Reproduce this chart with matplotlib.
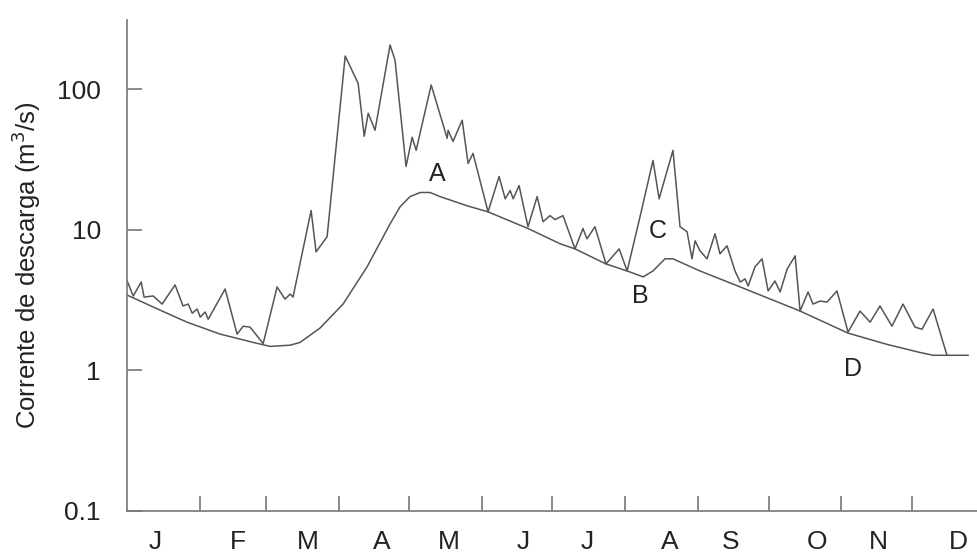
import matplotlib.pyplot as plt

plt.rcParams['font.family'] = ['Liberation Sans', 'DejaVu Sans']

# hidrograma (dia do ano, m3/s)
dias_q = [0, 2.6, 6.0, 7.2, 11.1, 14.9, 20.4, 23.8, 26.0, 27.7, 29.8, 31.1, 33.2, 34.5,
          41.7, 46.8, 49.4, 52.3, 57.9, 63.8, 67.2, 69.4, 70.6, 78.3, 80.4, 85.1,
          92.8, 98.3, 100.9, 102.6, 105.5, 111.9, 114.0, 118.7, 121.3, 123.0, 129.4,
          136.2, 136.6, 138.7, 142.6, 145.1, 147.2, 153.6, 158.3, 160.9, 163.0, 164.3,
          166.8, 170.6, 174.5, 177.0, 180.0, 182.1, 185.5, 190.6, 194.0, 195.7, 199.1,
          203.8, 209.4, 212.8, 218.3, 223.8, 226.4, 232.3, 235.3, 238.3, 240.4, 241.7,
          243.8, 246.8, 250.2, 252.3, 255.3, 258.7, 260.9, 263.0, 264.3, 267.2, 270.2,
          272.8, 275.7, 277.9, 280.9, 284.3, 286.4, 289.8, 291.9, 294.9, 297.9, 302.1,
          306.8, 311.9, 316.2, 320.4, 325.5, 330.2, 335.3, 338.3, 343.0, 348.9]
vazao = [4.32, 3.38, 4.25, 3.32, 3.38, 2.96, 4.05, 2.87, 2.96, 2.55, 2.73, 2.39, 2.6, 2.31,
         3.79, 1.81, 2.06, 2.03, 1.55, 3.92, 3.21, 3.49, 3.32, 13.7, 6.96, 8.91,
         172, 110, 46.2, 67.4, 51, 206, 161, 28.2, 45.4, 36.7, 107,
         44.7, 51, 42.5, 60.1, 29.6, 34.9, 13.4, 23.9, 16.6, 19.0, 16.6,
         20.6, 10.5, 17.2, 11.4, 12.6, 11.8, 12.6, 7.31, 10.2, 8.62, 10.5,
         5.71, 7.31, 5.09, 12.4, 31.1, 16.6, 36.7, 10.5, 9.68, 6.21, 8.34,
         7.08, 6.21, 9.36, 6.74, 7.69, 5.09, 4.25, 4.47, 3.98, 5.44, 6.21,
         3.67, 4.32, 3.61, 5.26, 6.52, 2.64, 3.61, 2.96, 3.11, 3.06, 3.67,
         1.87, 2.64, 2.2, 2.87, 2.06, 2.96, 2.03, 1.96, 2.73, 1.28]

# escoamento de base
dias_b = [0, 11.1, 25.5, 39.6, 53.6, 60.9, 69.4, 73.6, 82.1, 91.9, 102.1, 111.9, 116.2,
          120.4, 124.7, 128.9, 133.2, 144.7, 153.6, 170.6, 184.3, 190.6, 203.8, 212.8,
          219.6, 223.8, 228.9, 232.3, 243.8, 260.9, 286.4, 306.8, 323.4, 337.4, 343.0, 357.9]
base = [3.43, 2.82, 2.20, 1.81, 1.58, 1.48, 1.51, 1.58, 2.0, 2.96, 5.44, 11.0, 14.6,
        17.2, 18.4, 18.4, 17.2, 14.8, 13.4, 10.2, 7.94, 7.31, 5.71, 5.09,
        4.62, 5.09, 6.21, 6.21, 5.09, 3.92, 2.64, 1.84, 1.53, 1.34, 1.28, 1.28]

inicio_mes = [31, 59, 90, 120, 151, 181, 212, 243, 273, 304, 334]
meses = ['J', 'F', 'M', 'A', 'M', 'J', 'J', 'A', 'S', 'O', 'N', 'D']
pos_meses = [12, 47, 77, 108.5, 137, 168.5, 196, 231, 257, 293.6, 319.6, 353.6]

letras = ['A', 'B', 'C', 'D']
letras_x = [131.9, 218.3, 226.0, 309.0]
letras_y = [25.1, 3.38, 9.84, 1.02]

fig = plt.figure(figsize=(9.78, 5.56), dpi=100)
ax = fig.add_axes([0.13, 0.081, 0.869, 0.883])

ax.plot(dias_q, vazao, color='#555555', lw=1.1)
ax.plot(dias_b, base, color='#555555', lw=1.1)

for t, x, y in zip(letras, letras_x, letras_y):
    ax.text(x, y, t, ha='center', va='center', fontsize=18, color='#222222')

ax.set_yscale('log')
ax.set_ylim(0.1, 310)
ax.set_xlim(0, 361.7)
ax.set_yticks([0.1, 1, 10, 100])
ax.set_yticklabels(['0.1', '1', '10', '100'])
ax.minorticks_off()
ax.set_xticks(inicio_mes)
ax.set_xticklabels([])
ax.set_xticks(pos_meses, minor=True)
ax.set_xticklabels(meses, minor=True)

ax.tick_params(axis='both', which='major', direction='in', length=11, width=1.2,
               color='#777777', labelsize=19, labelcolor='#222222', pad=19)
ax.tick_params(axis='x', which='minor', length=0, labelsize=19, labelcolor='#222222', pad=14)

for s in ['top', 'right']:
    ax.spines[s].set_visible(False)
for s in ['left', 'bottom']:
    ax.spines[s].set_color('#777777')
    ax.spines[s].set_linewidth(1.2)

ax.set_ylabel('Corrente de descarga (m$^3$/s)', fontsize=18.5, color='#222222', labelpad=10)

plt.savefig('out.png', dpi=100)
